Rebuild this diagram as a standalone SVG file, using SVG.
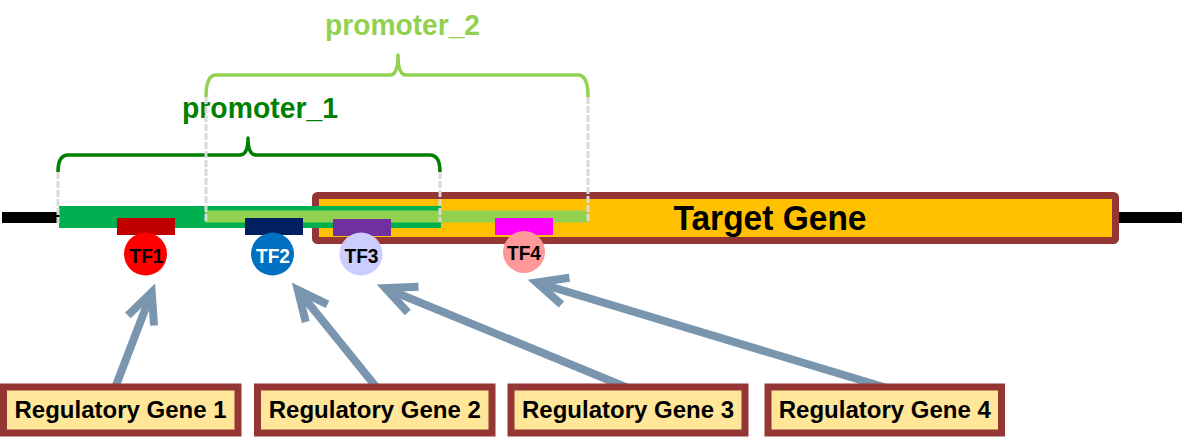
<svg xmlns="http://www.w3.org/2000/svg" width="1184" height="437" viewBox="0 0 1184 437">
<style>
.lbl{font-family:"Liberation Sans",Arial,sans-serif;font-weight:bold}
.reg rect{fill:#FFE699;stroke:#943634;stroke-width:7}
.reg text{font-size:24px;fill:#000;text-anchor:middle}
.tf text{font-size:21px;text-anchor:middle}
.dash{stroke:#D9D9D9;stroke-width:3;stroke-dasharray:7 2;fill:none}
.brace{fill:none;stroke-width:3.5;stroke-linejoin:round}
.conn{stroke:#7A96AE;stroke-width:8;fill:none}
</style>
<defs>
<marker id="ah" markerUnits="userSpaceOnUse" orient="auto" refX="0" refY="0" overflow="visible">
<path d="M-30,-14 L0,0 L-30,14" fill="none" stroke="#7A96AE" stroke-width="8"/>
</marker>
</defs>
<rect width="1184" height="437" fill="#fff"/>

<g id="dna">
<line x1="2" y1="217.5" x2="60" y2="217.5" stroke="#000" stroke-width="11"/>
<line x1="1115" y1="217.5" x2="1182" y2="217.5" stroke="#000" stroke-width="11"/>
</g>

<g id="target_gene">
<rect x="315.5" y="195.5" width="800" height="45" rx="2" fill="#FFC000" stroke="#943634" stroke-width="7"/>
<text class="lbl" x="770" y="230" font-size="35" text-anchor="middle" textLength="193" lengthAdjust="spacingAndGlyphs" fill="#000">Target Gene</text>
</g>

<g id="promoter_1">
<rect x="59" y="206" width="382" height="22" fill="#00B050"/>
<path class="brace" stroke="#008000" d="M58,172 Q58,155 68,155 L240,155 Q248,155 248,138 Q248,155 256,155 L430,155 Q440,155 440,172"/>
<text class="lbl" x="260" y="118" font-size="29" text-anchor="middle" textLength="156" lengthAdjust="spacingAndGlyphs" fill="#008000">promoter_1</text>
</g>

<g id="promoter_2">
<rect x="205" y="210.5" width="383" height="12" fill="#92D050"/>
<path class="brace" stroke="#92D050" d="M206,97 Q206,75 216,75 L390,75 Q398,75 398,55 Q398,75 406,75 L578,75 Q588,75 588,97"/>
<text class="lbl" x="402.5" y="35" font-size="29" text-anchor="middle" textLength="155" lengthAdjust="spacingAndGlyphs" fill="#92D050">promoter_2</text>
</g>

<g id="guides">
<line class="dash" x1="58" y1="172" x2="58" y2="223"/>
<line class="dash" x1="440" y1="172" x2="440" y2="222"/>
<line class="dash" x1="206" y1="97" x2="206" y2="222"/>
<line class="dash" x1="588" y1="97" x2="588" y2="222"/>
</g>

<g id="connectors">
<line class="conn" x1="115" y1="388" x2="151.7" y2="292.4" marker-end="url(#ah)"/>
<line class="conn" x1="377" y1="388" x2="297.8" y2="289.9" marker-end="url(#ah)"/>
<line class="conn" x1="628" y1="388" x2="385.4" y2="288.2" marker-end="url(#ah)"/>
<line class="conn" x1="887" y1="388" x2="536.7" y2="282.5" marker-end="url(#ah)"/>
</g>

<g id="TF1" class="tf lbl">
<rect x="117" y="218" width="58" height="17" fill="#C00000"/>
<circle cx="145.5" cy="254" r="21.5" fill="#FF0000"/>
<text x="146.5" y="262.5" textLength="34" lengthAdjust="spacingAndGlyphs" fill="#000">TF1</text>
</g>
<g id="TF2" class="tf lbl">
<rect x="245" y="218" width="58" height="17" fill="#002060"/>
<circle cx="272.5" cy="254" r="21.5" fill="#0070C0"/>
<text x="273" y="262.5" textLength="34" lengthAdjust="spacingAndGlyphs" fill="#fff">TF2</text>
</g>
<g id="TF3" class="tf lbl">
<rect x="333" y="219" width="58" height="17" fill="#7030A0"/>
<circle cx="361" cy="254" r="21.5" fill="#CCCCFF"/>
<text x="361.5" y="262.5" textLength="34" lengthAdjust="spacingAndGlyphs" fill="#000">TF3</text>
</g>
<g id="TF4" class="tf lbl">
<rect x="495" y="218" width="58" height="17" fill="#FF00FF"/>
<circle cx="524" cy="252" r="21" fill="#FF9999"/>
<text x="524" y="260" textLength="34" lengthAdjust="spacingAndGlyphs" fill="#000">TF4</text>
</g>

<g id="reg1" class="reg lbl">
<rect x="3.5" y="387" width="234.5" height="46"/>
<text x="120.5" y="418">Regulatory Gene 1</text>
</g>
<g id="reg2" class="reg lbl">
<rect x="257.5" y="387" width="234.5" height="46"/>
<text x="374.75" y="418">Regulatory Gene 2</text>
</g>
<g id="reg3" class="reg lbl">
<rect x="511" y="387" width="234" height="46"/>
<text x="628" y="418">Regulatory Gene 3</text>
</g>
<g id="reg4" class="reg lbl">
<rect x="768" y="387" width="233.5" height="46"/>
<text x="884.75" y="418">Regulatory Gene 4</text>
</g>
</svg>
